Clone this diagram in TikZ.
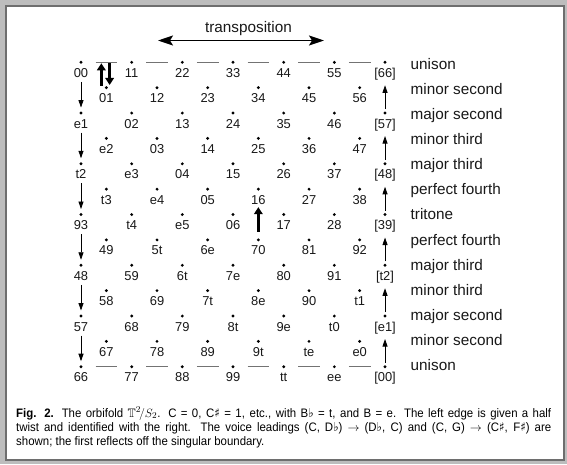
\documentclass[tikz,border=0pt]{standalone}
\usepackage{fontspec}
\usepackage{amssymb}
\setmainfont{Liberation Sans}
\newfontfamily\capfont[FakeStretch=0.93]{Liberation Sans}
\newfontfamily\symfont[FakeStretch=0.93]{DejaVu Sans}
\usetikzlibrary{arrows.meta,calc}
\definecolor{framegray}{HTML}{BDBDBD}
\definecolor{framedark}{HTML}{6E6E6E}
\newcommand{\shp}{{\symfont\char"266F}}
\newcommand{\flt}{{\symfont\char"266D}}
\begin{document}
\begin{tikzpicture}[x=1pt,y=-1pt,
  dot/.style={circle,fill=black,inner sep=0pt,minimum size=3.2pt},
  lab/.style={font=\fontsize{12.9}{14}\selectfont,inner sep=0pt,anchor=base,text=black!90},
  iv/.style={font=\fontsize{15.3}{17}\selectfont,inner sep=0pt,anchor=base west,text=black!90},
  thinarr/.style={line width=0.8pt,-{Triangle[width=5pt,length=7.5pt]}},
  boldarr/.style={line width=2.7pt,-{Triangle[width=8.5pt,length=7pt]}},
  dashseg/.style={black!55,line width=1pt}]
\useasboundingbox (0,0) rectangle (567,464);
\fill[framegray] (0,0) rectangle (567,464);
\draw[framedark,line width=2pt,fill=white] (6,6) rectangle (563.5,459.5);

% grid
\foreach \r/\lst in {
  0/{00,11,22,33,44,55,[66]},
  1/{01,12,23,34,45,56},
  2/{e1,02,13,24,35,46,[57]},
  3/{e2,03,14,25,36,47},
  4/{t2,e3,04,15,26,37,[48]},
  5/{t3,e4,05,16,27,38},
  6/{93,t4,e5,06,17,28,[39]},
  7/{49,5t,6e,70,81,92},
  8/{48,59,6t,7e,80,91,[t2]},
  9/{58,69,7t,8e,90,t1},
  10/{57,68,79,8t,9e,t0,[e1]},
  11/{67,78,89,9t,te,e0},
  12/{66,77,88,99,tt,ee,[00]}}{
  \pgfmathsetmacro\yy{62.3+25.37*\r}
  \pgfmathsetmacro\off{mod(\r,2)*0.5}
  \foreach \t [count=\i from 0] in \lst {
    \pgfmathsetmacro\xx{81+50.67*(\i+\off)}
    \node[dot] (d\r-\i) at (\xx,\yy) {};
    \node[lab] (l\r-\i) at (\xx,\yy+15) {\t};
  }
}

% dashed boundary
\foreach \r in {0,12}{
  \foreach \i [evaluate=\i as \j using int(\i+1)] in {0,...,5}{
    \draw[dashseg] ([xshift=14.5pt]d\r-\i.center) -- ([xshift=-14.5pt]d\r-\j.center);
  }
}

% left and right identification arrows
\foreach \r [evaluate=\r as \n using int(\r+2)] in {0,2,4,6,8,10}{
  \draw[thinarr] ($(l\r-0.base)+(0,4.5)$) -- ($(d\n-0)+(0,-5.5)$);
  \draw[thinarr] ($(d\n-6)+(0,-4)$) -- ($(l\r-6.base)+(0,8)$);
}

% voice leadings
\draw[boldarr] ($(d1-0)+(-5,-1.7)$) -- ($(d1-0)+(-5,-24.4)$);
\draw[boldarr] ($(d1-0)+(3.3,-24.4)$) -- ($(d1-0)+(3.3,-2.7)$);
\draw[boldarr] ($(d7-3)+(0,-8)$) -- ($(l5-3.base)+(0,3)$);

% transposition
\node[iv,anchor=base] (tr) at (248.5,32.5) {transposition};
\coordinate (tl) at (158,40.5);
\coordinate (tr2) at (324,40.5);
\draw[line width=1.8pt,{Stealth[width=10pt,length=15pt,inset=3pt]}-{Stealth[width=10pt,length=15pt,inset=3pt]}] (tl) -- (tr2);

% interval names
\foreach \r/\t in {0/unison,1/minor second,2/major second,3/minor third,4/major third,
  5/perfect fourth,6/tritone,7/perfect fourth,8/major third,9/minor third,
  10/major second,11/minor second,12/unison}{
  \node[iv] (iv\r) at (410.5,69.3+25.1*\r) {\t};
}

% caption
\tikzset{capt/.style={anchor=base west,inner sep=0pt,font=\capfont\fontsize{12.3}{13}\selectfont}}
\node[capt] (cap1) at (16,417) {\makebox[535pt][s]{\textbf{Fig. 2.} The orbifold $\mathbb{T}^2\!/S_2$. C = 0, C\shp{} = 1, etc., with B\flt{} = t, and B = e. The left edge is given a half}};
\node[capt] (cap2) at (16,431) {\makebox[535pt][s]{twist and identified with the right. The voice leadings (C, D\flt) $\rightarrow$ (D\flt, C) and (C, G) $\rightarrow$ (C\shp, F\shp) are}};
\node[capt] (cap3) at (16,445) {shown; the first reflects off the singular boundary.};
\end{tikzpicture}
\end{document}
